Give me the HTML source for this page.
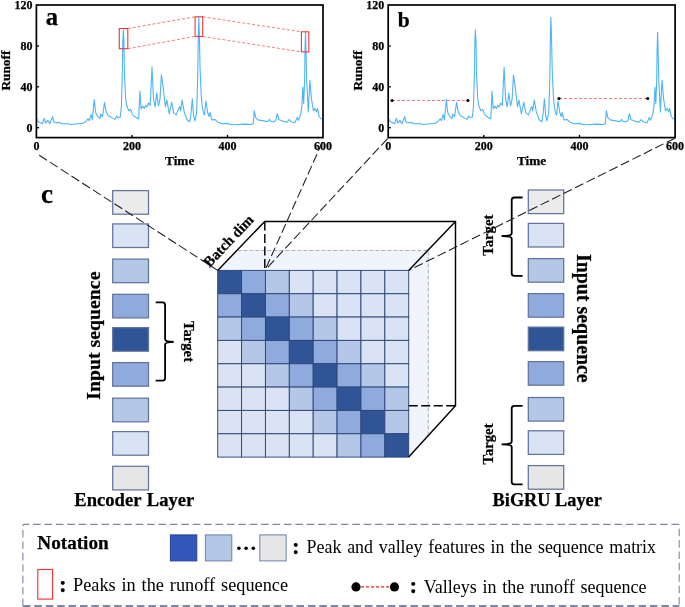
<!DOCTYPE html>
<html lang="en"><head><meta charset="utf-8"><title>Figure</title>
<style>
html,body{margin:0;padding:0;background:#fff;}
svg{display:block;font-family:'Liberation Serif', 'Times New Roman', serif;}
text{fill:#000;}
.bd{font-weight:bold;stroke:#000;stroke-width:0.25px;}
</style></head><body>
<svg width="685" height="607" viewBox="0 0 685 607">
<rect width="685" height="607" fill="#fff"/>
<polyline points="36.6,118.7 38.2,121.5 42.4,123.7 44.3,118.3 45.7,123.2 47.8,120.4 49.8,123.7 52.6,116.6 53.9,122.0 56.4,122.9 59.3,122.4 62.9,124.0 66.6,123.5 71.2,124.5 77.8,123.7 82.7,123.2 86.0,121.5 88.0,118.7 89.3,120.7 91.0,114.5 92.3,119.9 94.3,99.6 95.6,112.5 97.5,116.1 100.0,118.7 100.8,114.1 102.5,116.6 104.5,102.3 106.1,111.7 108.3,115.8 111.5,117.4 114.8,119.4 116.5,116.1 118.1,117.8 120.3,117.1 121.4,105.9 122.3,72.9 122.8,42.0 123.3,29.9 123.9,42.0 124.4,72.9 125.6,97.7 126.5,105.0 128.8,110.9 130.4,109.3 132.8,114.9 135.8,117.2 138.7,118.8 139.9,91.1 141.1,108.9 142.7,106.0 144.2,108.5 145.6,105.4 147.0,107.0 148.6,103.0 150.2,105.4 152.0,67.4 153.5,99.0 155.1,107.0 156.7,93.1 158.5,106.0 160.0,99.0 161.4,74.9 163.4,89.2 165.4,107.0 166.8,100.0 169.3,113.9 171.7,102.0 173.7,112.9 176.3,114.9 178.2,109.9 179.8,106.6 180.6,110.9 182.2,100.0 184.2,111.9 187.1,119.8 189.7,121.8 191.1,112.9 192.3,98.7 193.5,114.9 194.8,121.0 196.6,113.0 197.7,79.3 198.3,36.0 198.8,17.3 199.4,36.0 200.1,69.4 201.2,95.0 202.2,106.0 203.4,113.0 204.5,114.9 205.9,101.0 207.8,113.0 209.1,116.5 210.1,112.5 211.9,119.9 214.9,119.5 217.7,122.2 222.3,123.8 226.9,123.4 231.5,124.8 238.4,124.5 245.4,124.1 251.1,124.5 253.2,123.4 254.3,110.7 255.7,117.6 258.0,119.9 262.6,120.6 267.3,121.8 269.6,119.5 271.2,121.8 274.2,121.8 276.0,119.9 277.2,113.5 278.8,119.5 282.3,121.1 286.9,122.2 289.2,119.5 291.0,121.8 294.9,122.7 297.2,117.6 298.4,120.4 300.7,114.2 301.9,106.1 302.8,87.2 303.7,103.8 304.6,80.7 305.0,50.0 305.5,32.3 306.0,50.0 306.7,80.7 308.3,111.9 309.9,80.3 311.5,99.2 313.4,110.7 315.0,108.4 316.4,111.9 317.5,108.4 319.2,116.5 321.5,119.5" fill="none" stroke="#4db4f6" stroke-width="1.1" stroke-linejoin="round"/>
<rect x="36.4" y="5.0" width="286.6" height="132.6" fill="none" stroke="#000" stroke-width="1.7"/>
<line x1="36.4" y1="127.7" x2="39.1" y2="127.7" stroke="#000" stroke-width="1.3"/>
<text class="bd" x="32.5" y="131.7" text-anchor="end" font-size="12">0</text>
<line x1="36.4" y1="86.8" x2="39.1" y2="86.8" stroke="#000" stroke-width="1.3"/>
<text class="bd" x="32.5" y="90.8" text-anchor="end" font-size="12">40</text>
<line x1="36.4" y1="46.0" x2="39.1" y2="46.0" stroke="#000" stroke-width="1.3"/>
<text class="bd" x="32.5" y="50.0" text-anchor="end" font-size="12">80</text>
<text class="bd" x="32.5" y="9.1" text-anchor="end" font-size="12">120</text>
<text class="bd" x="36.4" y="150.1" text-anchor="middle" font-size="12">0</text>
<line x1="131.9" y1="137.6" x2="131.9" y2="134.9" stroke="#000" stroke-width="1.3"/>
<text class="bd" x="131.9" y="150.1" text-anchor="middle" font-size="12">200</text>
<line x1="227.5" y1="137.6" x2="227.5" y2="134.9" stroke="#000" stroke-width="1.3"/>
<text class="bd" x="227.5" y="150.1" text-anchor="middle" font-size="12">400</text>
<text class="bd" x="323.0" y="150.1" text-anchor="middle" font-size="12">600</text>
<text class="bd" x="179.7" y="164.5" text-anchor="middle" font-size="13.3">Time</text>
<text class="bd" transform="translate(10.2,70.6) rotate(-90)" text-anchor="middle" font-size="13.3">Runoff</text>
<text class="bd" x="45.8" y="24.8" font-size="24.6">a</text>
<rect x="119.3" y="28.5" width="8.5" height="20.2" fill="none" stroke="#f23535" stroke-width="1.1"/>
<rect x="195.1" y="16.8" width="7.6" height="19.6" fill="none" stroke="#f23535" stroke-width="1.1"/>
<rect x="301.4" y="31.8" width="7.4" height="20.1" fill="none" stroke="#f23535" stroke-width="1.1"/>
<line x1="127.8" y1="28.5" x2="195.1" y2="16.8" stroke="#f45a5a" stroke-width="0.8" stroke-dasharray="3 2"/>
<line x1="127.8" y1="48.7" x2="195.1" y2="36.4" stroke="#f45a5a" stroke-width="0.8" stroke-dasharray="3 2"/>
<line x1="202.7" y1="16.8" x2="301.4" y2="31.8" stroke="#f45a5a" stroke-width="0.8" stroke-dasharray="3 2"/>
<line x1="202.7" y1="36.4" x2="301.4" y2="51.9" stroke="#f45a5a" stroke-width="0.8" stroke-dasharray="3 2"/>
<polyline points="388.7,118.7 390.3,121.5 394.5,123.7 396.4,118.3 397.8,123.2 399.9,120.4 401.9,123.7 404.7,116.6 406.0,122.0 408.5,122.9 411.4,122.4 415.0,124.0 418.7,123.5 423.3,124.5 429.9,123.7 434.8,123.2 438.1,121.5 440.1,118.7 441.4,120.7 443.1,114.5 444.4,119.9 446.4,99.6 447.7,112.5 449.6,116.1 452.1,118.7 452.9,114.1 454.6,116.6 456.6,102.3 458.2,111.7 460.4,115.8 463.6,117.4 466.9,119.4 468.6,116.1 470.2,117.8 472.4,117.1 473.5,105.9 474.4,72.9 474.9,42.0 475.4,29.9 476.0,42.0 476.5,72.9 477.7,97.7 478.6,105.0 480.9,110.9 482.5,109.3 484.9,114.9 487.9,117.2 490.8,118.8 492.0,91.1 493.2,108.9 494.8,106.0 496.3,108.5 497.7,105.4 499.1,107.0 500.7,103.0 502.3,105.4 504.1,67.4 505.6,99.0 507.2,107.0 508.8,93.1 510.6,106.0 512.1,99.0 513.5,74.9 515.5,89.2 517.5,107.0 518.9,100.0 521.4,113.9 523.8,102.0 525.8,112.9 528.4,114.9 530.3,109.9 531.9,106.6 532.7,110.9 534.3,100.0 536.3,111.9 539.2,119.8 541.8,121.8 543.2,112.9 544.4,98.7 545.6,114.9 546.9,121.0 548.7,113.0 549.8,79.3 550.4,36.0 550.9,17.3 551.5,36.0 552.2,69.4 553.3,95.0 554.3,106.0 555.5,113.0 556.6,114.9 558.0,101.0 559.9,113.0 561.2,116.5 562.2,112.5 564.0,119.9 567.0,119.5 569.8,122.2 574.4,123.8 579.0,123.4 583.6,124.8 590.5,124.5 597.5,124.1 603.2,124.5 605.3,123.4 606.4,110.7 607.8,117.6 610.1,119.9 614.7,120.6 619.4,121.8 621.7,119.5 623.3,121.8 626.3,121.8 628.1,119.9 629.3,113.5 630.9,119.5 634.4,121.1 639.0,122.2 641.3,119.5 643.1,121.8 647.0,122.7 649.3,117.6 650.5,120.4 652.8,114.2 654.0,106.1 654.9,87.2 655.8,103.8 656.7,80.7 657.1,50.0 657.6,32.3 658.1,50.0 658.8,80.7 660.4,111.9 662.0,80.3 663.6,99.2 665.5,110.7 667.1,108.4 668.5,111.9 669.6,108.4 671.3,116.5 673.6,119.5" fill="none" stroke="#4db4f6" stroke-width="1.1" stroke-linejoin="round"/>
<rect x="388.2" y="5.0" width="286.9" height="132.6" fill="none" stroke="#000" stroke-width="1.7"/>
<line x1="388.2" y1="127.7" x2="390.9" y2="127.7" stroke="#000" stroke-width="1.3"/>
<text class="bd" x="384.3" y="131.7" text-anchor="end" font-size="12">0</text>
<line x1="388.2" y1="86.8" x2="390.9" y2="86.8" stroke="#000" stroke-width="1.3"/>
<text class="bd" x="384.3" y="90.8" text-anchor="end" font-size="12">40</text>
<line x1="388.2" y1="46.0" x2="390.9" y2="46.0" stroke="#000" stroke-width="1.3"/>
<text class="bd" x="384.3" y="50.0" text-anchor="end" font-size="12">80</text>
<text class="bd" x="384.3" y="9.1" text-anchor="end" font-size="12">120</text>
<text class="bd" x="388.2" y="150.1" text-anchor="middle" font-size="12">0</text>
<line x1="483.8" y1="137.6" x2="483.8" y2="134.9" stroke="#000" stroke-width="1.3"/>
<text class="bd" x="483.8" y="150.1" text-anchor="middle" font-size="12">200</text>
<line x1="579.5" y1="137.6" x2="579.5" y2="134.9" stroke="#000" stroke-width="1.3"/>
<text class="bd" x="579.5" y="150.1" text-anchor="middle" font-size="12">400</text>
<text class="bd" x="675.1" y="150.1" text-anchor="middle" font-size="12">600</text>
<text class="bd" x="531.6" y="164.5" text-anchor="middle" font-size="13.3">Time</text>
<text class="bd" transform="translate(362.4,70.6) rotate(-90)" text-anchor="middle" font-size="13.3">Runoff</text>
<text class="bd" x="397.7" y="26.6" font-size="21.5">b</text>
<line x1="392.0" y1="100.5" x2="467.9" y2="100.5" stroke="#f45a5a" stroke-width="0.8" stroke-dasharray="3 2"/>
<circle cx="392.0" cy="100.5" r="1.6" fill="#000"/><circle cx="467.9" cy="100.5" r="1.6" fill="#000"/>
<line x1="559.0" y1="98.5" x2="647.7" y2="98.5" stroke="#f45a5a" stroke-width="0.8" stroke-dasharray="3 2"/>
<circle cx="559.0" cy="98.5" r="1.6" fill="#000"/><circle cx="647.7" cy="98.5" r="1.6" fill="#000"/>
<text class="bd" x="41" y="203" font-size="27">c</text>
<rect x="112.7" y="190.6" width="35.8" height="23.6" fill="#ebebeb" stroke="#62739c" stroke-width="1.25"/>
<rect x="112.7" y="223.9" width="35.8" height="23.6" fill="#dae3f3" stroke="#62739c" stroke-width="1.25"/>
<rect x="112.7" y="259.1" width="35.8" height="23.6" fill="#b4c7e7" stroke="#62739c" stroke-width="1.25"/>
<rect x="112.7" y="294.3" width="35.8" height="23.6" fill="#8faadc" stroke="#62739c" stroke-width="1.25"/>
<rect x="112.7" y="327.6" width="35.8" height="23.6" fill="#2f5597" stroke="#62739c" stroke-width="1.25"/>
<rect x="112.7" y="362.6" width="35.8" height="23.6" fill="#8faadc" stroke="#62739c" stroke-width="1.25"/>
<rect x="112.7" y="398.2" width="35.8" height="23.6" fill="#b4c7e7" stroke="#62739c" stroke-width="1.25"/>
<rect x="112.7" y="431.6" width="35.8" height="23.6" fill="#dae3f3" stroke="#62739c" stroke-width="1.25"/>
<rect x="112.7" y="466.3" width="35.8" height="23.6" fill="#e7e6e6" stroke="#62739c" stroke-width="1.25"/>
<rect x="528.3" y="190.0" width="35.4" height="23.6" fill="#ebebeb" stroke="#62739c" stroke-width="1.25"/>
<rect x="528.3" y="223.4" width="35.4" height="23.6" fill="#dae3f3" stroke="#62739c" stroke-width="1.25"/>
<rect x="528.3" y="258.6" width="35.4" height="23.6" fill="#b4c7e7" stroke="#62739c" stroke-width="1.25"/>
<rect x="528.3" y="293.6" width="35.4" height="23.6" fill="#8faadc" stroke="#62739c" stroke-width="1.25"/>
<rect x="528.3" y="327.1" width="35.4" height="23.6" fill="#2f5597" stroke="#62739c" stroke-width="1.25"/>
<rect x="528.3" y="361.6" width="35.4" height="23.6" fill="#8faadc" stroke="#62739c" stroke-width="1.25"/>
<rect x="528.3" y="397.5" width="35.4" height="23.6" fill="#b4c7e7" stroke="#62739c" stroke-width="1.25"/>
<rect x="528.3" y="430.8" width="35.4" height="23.6" fill="#dae3f3" stroke="#62739c" stroke-width="1.25"/>
<rect x="528.3" y="465.6" width="35.4" height="23.6" fill="#e7e6e6" stroke="#62739c" stroke-width="1.25"/>
<path d="M155.7,302.4 L162.5,302.4 Q165.1,302.4 165.1,305.0 L165.1,339.29999999999995 Q165.1,341.9 173.8,341.9 Q165.1,341.9 165.1,344.5 L165.1,378.0 Q165.1,380.6 162.5,380.6 L155.7,380.6" fill="none" stroke="#000" stroke-width="1.8"/>
<path d="M522.6,197.5 L514.3,197.5 Q511.7,197.5 511.7,200.1 L511.7,233.4 Q511.7,236.0 501.6,236.0 Q511.7,236.0 511.7,238.6 L511.7,273.2 Q511.7,275.8 514.3,275.8 L522.6,275.8" fill="none" stroke="#000" stroke-width="1.8"/>
<path d="M522.6,405.9 L514.3,405.9 Q511.7,405.9 511.7,408.5 L511.7,441.7 Q511.7,444.3 501.6,444.3 Q511.7,444.3 511.7,446.90000000000003 L511.7,481.7 Q511.7,484.3 514.3,484.3 L522.6,484.3" fill="none" stroke="#000" stroke-width="1.8"/>
<text class="bd" transform="translate(183.9,341.5) rotate(90)" text-anchor="middle" font-size="14.7">Target</text>
<text class="bd" transform="translate(493.2,235.2) rotate(-90)" text-anchor="middle" font-size="14.7">Target</text>
<text class="bd" transform="translate(493.2,444) rotate(-90)" text-anchor="middle" font-size="14.7">Target</text>
<text class="bd" transform="translate(99.5,335.6) rotate(-90)" text-anchor="middle" font-size="19.8">Input sequence</text>
<text class="bd" transform="translate(576.5,318.3) rotate(90)" text-anchor="middle" font-size="19.9">Input sequence</text>
<text class="bd" x="134.3" y="505.9" text-anchor="middle" font-size="18.6" word-spacing="1">Encoder Layer</text>
<text class="bd" x="547.2" y="505.6" text-anchor="middle" font-size="18.3">BiGRU Layer</text>
<polygon points="217.7,270.4 237.3,250.5 428.3,250.5 428.3,435.6 408.7,457.1 408.7,270.4" fill="#f0f4fb" stroke="none"/>
<polyline points="237.3,250.5 428.3,250.5 428.3,435.6" fill="none" stroke="#a0a7b8" stroke-width="0.9" stroke-dasharray="4 2"/>
<rect x="217.70" y="270.40" width="23.88" height="23.34" fill="#2f5597" stroke="#2e4679" stroke-width="0.95"/>
<rect x="241.57" y="270.40" width="23.88" height="23.34" fill="#8faadc" stroke="#2e4679" stroke-width="0.95"/>
<rect x="265.45" y="270.40" width="23.88" height="23.34" fill="#b4c7e7" stroke="#2e4679" stroke-width="0.95"/>
<rect x="289.32" y="270.40" width="23.88" height="23.34" fill="#dae3f3" stroke="#2e4679" stroke-width="0.95"/>
<rect x="313.20" y="270.40" width="23.88" height="23.34" fill="#dae3f3" stroke="#2e4679" stroke-width="0.95"/>
<rect x="337.07" y="270.40" width="23.88" height="23.34" fill="#dae3f3" stroke="#2e4679" stroke-width="0.95"/>
<rect x="360.95" y="270.40" width="23.88" height="23.34" fill="#dae3f3" stroke="#2e4679" stroke-width="0.95"/>
<rect x="384.82" y="270.40" width="23.88" height="23.34" fill="#dae3f3" stroke="#2e4679" stroke-width="0.95"/>
<rect x="217.70" y="293.74" width="23.88" height="23.34" fill="#8faadc" stroke="#2e4679" stroke-width="0.95"/>
<rect x="241.57" y="293.74" width="23.88" height="23.34" fill="#2f5597" stroke="#2e4679" stroke-width="0.95"/>
<rect x="265.45" y="293.74" width="23.88" height="23.34" fill="#8faadc" stroke="#2e4679" stroke-width="0.95"/>
<rect x="289.32" y="293.74" width="23.88" height="23.34" fill="#b4c7e7" stroke="#2e4679" stroke-width="0.95"/>
<rect x="313.20" y="293.74" width="23.88" height="23.34" fill="#dae3f3" stroke="#2e4679" stroke-width="0.95"/>
<rect x="337.07" y="293.74" width="23.88" height="23.34" fill="#dae3f3" stroke="#2e4679" stroke-width="0.95"/>
<rect x="360.95" y="293.74" width="23.88" height="23.34" fill="#dae3f3" stroke="#2e4679" stroke-width="0.95"/>
<rect x="384.82" y="293.74" width="23.88" height="23.34" fill="#dae3f3" stroke="#2e4679" stroke-width="0.95"/>
<rect x="217.70" y="317.07" width="23.88" height="23.34" fill="#b4c7e7" stroke="#2e4679" stroke-width="0.95"/>
<rect x="241.57" y="317.07" width="23.88" height="23.34" fill="#8faadc" stroke="#2e4679" stroke-width="0.95"/>
<rect x="265.45" y="317.07" width="23.88" height="23.34" fill="#2f5597" stroke="#2e4679" stroke-width="0.95"/>
<rect x="289.32" y="317.07" width="23.88" height="23.34" fill="#8faadc" stroke="#2e4679" stroke-width="0.95"/>
<rect x="313.20" y="317.07" width="23.88" height="23.34" fill="#b4c7e7" stroke="#2e4679" stroke-width="0.95"/>
<rect x="337.07" y="317.07" width="23.88" height="23.34" fill="#dae3f3" stroke="#2e4679" stroke-width="0.95"/>
<rect x="360.95" y="317.07" width="23.88" height="23.34" fill="#dae3f3" stroke="#2e4679" stroke-width="0.95"/>
<rect x="384.82" y="317.07" width="23.88" height="23.34" fill="#dae3f3" stroke="#2e4679" stroke-width="0.95"/>
<rect x="217.70" y="340.41" width="23.88" height="23.34" fill="#dae3f3" stroke="#2e4679" stroke-width="0.95"/>
<rect x="241.57" y="340.41" width="23.88" height="23.34" fill="#b4c7e7" stroke="#2e4679" stroke-width="0.95"/>
<rect x="265.45" y="340.41" width="23.88" height="23.34" fill="#8faadc" stroke="#2e4679" stroke-width="0.95"/>
<rect x="289.32" y="340.41" width="23.88" height="23.34" fill="#2f5597" stroke="#2e4679" stroke-width="0.95"/>
<rect x="313.20" y="340.41" width="23.88" height="23.34" fill="#8faadc" stroke="#2e4679" stroke-width="0.95"/>
<rect x="337.07" y="340.41" width="23.88" height="23.34" fill="#b4c7e7" stroke="#2e4679" stroke-width="0.95"/>
<rect x="360.95" y="340.41" width="23.88" height="23.34" fill="#dae3f3" stroke="#2e4679" stroke-width="0.95"/>
<rect x="384.82" y="340.41" width="23.88" height="23.34" fill="#dae3f3" stroke="#2e4679" stroke-width="0.95"/>
<rect x="217.70" y="363.75" width="23.88" height="23.34" fill="#dae3f3" stroke="#2e4679" stroke-width="0.95"/>
<rect x="241.57" y="363.75" width="23.88" height="23.34" fill="#dae3f3" stroke="#2e4679" stroke-width="0.95"/>
<rect x="265.45" y="363.75" width="23.88" height="23.34" fill="#b4c7e7" stroke="#2e4679" stroke-width="0.95"/>
<rect x="289.32" y="363.75" width="23.88" height="23.34" fill="#8faadc" stroke="#2e4679" stroke-width="0.95"/>
<rect x="313.20" y="363.75" width="23.88" height="23.34" fill="#2f5597" stroke="#2e4679" stroke-width="0.95"/>
<rect x="337.07" y="363.75" width="23.88" height="23.34" fill="#8faadc" stroke="#2e4679" stroke-width="0.95"/>
<rect x="360.95" y="363.75" width="23.88" height="23.34" fill="#b4c7e7" stroke="#2e4679" stroke-width="0.95"/>
<rect x="384.82" y="363.75" width="23.88" height="23.34" fill="#dae3f3" stroke="#2e4679" stroke-width="0.95"/>
<rect x="217.70" y="387.09" width="23.88" height="23.34" fill="#dae3f3" stroke="#2e4679" stroke-width="0.95"/>
<rect x="241.57" y="387.09" width="23.88" height="23.34" fill="#dae3f3" stroke="#2e4679" stroke-width="0.95"/>
<rect x="265.45" y="387.09" width="23.88" height="23.34" fill="#dae3f3" stroke="#2e4679" stroke-width="0.95"/>
<rect x="289.32" y="387.09" width="23.88" height="23.34" fill="#b4c7e7" stroke="#2e4679" stroke-width="0.95"/>
<rect x="313.20" y="387.09" width="23.88" height="23.34" fill="#8faadc" stroke="#2e4679" stroke-width="0.95"/>
<rect x="337.07" y="387.09" width="23.88" height="23.34" fill="#2f5597" stroke="#2e4679" stroke-width="0.95"/>
<rect x="360.95" y="387.09" width="23.88" height="23.34" fill="#8faadc" stroke="#2e4679" stroke-width="0.95"/>
<rect x="384.82" y="387.09" width="23.88" height="23.34" fill="#b4c7e7" stroke="#2e4679" stroke-width="0.95"/>
<rect x="217.70" y="410.43" width="23.88" height="23.34" fill="#dae3f3" stroke="#2e4679" stroke-width="0.95"/>
<rect x="241.57" y="410.43" width="23.88" height="23.34" fill="#dae3f3" stroke="#2e4679" stroke-width="0.95"/>
<rect x="265.45" y="410.43" width="23.88" height="23.34" fill="#dae3f3" stroke="#2e4679" stroke-width="0.95"/>
<rect x="289.32" y="410.43" width="23.88" height="23.34" fill="#dae3f3" stroke="#2e4679" stroke-width="0.95"/>
<rect x="313.20" y="410.43" width="23.88" height="23.34" fill="#b4c7e7" stroke="#2e4679" stroke-width="0.95"/>
<rect x="337.07" y="410.43" width="23.88" height="23.34" fill="#8faadc" stroke="#2e4679" stroke-width="0.95"/>
<rect x="360.95" y="410.43" width="23.88" height="23.34" fill="#2f5597" stroke="#2e4679" stroke-width="0.95"/>
<rect x="384.82" y="410.43" width="23.88" height="23.34" fill="#b4c7e7" stroke="#2e4679" stroke-width="0.95"/>
<rect x="217.70" y="433.76" width="23.88" height="23.34" fill="#dae3f3" stroke="#2e4679" stroke-width="0.95"/>
<rect x="241.57" y="433.76" width="23.88" height="23.34" fill="#dae3f3" stroke="#2e4679" stroke-width="0.95"/>
<rect x="265.45" y="433.76" width="23.88" height="23.34" fill="#dae3f3" stroke="#2e4679" stroke-width="0.95"/>
<rect x="289.32" y="433.76" width="23.88" height="23.34" fill="#dae3f3" stroke="#2e4679" stroke-width="0.95"/>
<rect x="313.20" y="433.76" width="23.88" height="23.34" fill="#dae3f3" stroke="#2e4679" stroke-width="0.95"/>
<rect x="337.07" y="433.76" width="23.88" height="23.34" fill="#b4c7e7" stroke="#2e4679" stroke-width="0.95"/>
<rect x="360.95" y="433.76" width="23.88" height="23.34" fill="#8faadc" stroke="#2e4679" stroke-width="0.95"/>
<rect x="384.82" y="433.76" width="23.88" height="23.34" fill="#2f5597" stroke="#2e4679" stroke-width="0.95"/>
<polyline points="217.7,270.4 264.8,221.4 455.5,221.4 455.5,405.8 408.7,457.1" fill="none" stroke="#000" stroke-width="1.45" stroke-linejoin="miter"/>
<line x1="455.5" y1="221.4" x2="408.7" y2="270.4" stroke="#000" stroke-width="1.45"/>
<line x1="264.8" y1="221.4" x2="264.8" y2="270.4" stroke="#000" stroke-width="1.45" stroke-dasharray="9 3.5"/>
<line x1="408.7" y1="405.8" x2="455.5" y2="405.8" stroke="#000" stroke-width="1.45" stroke-dasharray="9 3.5"/>
<line x1="39.2" y1="155.2" x2="217.7" y2="270.4" stroke="#1c1c1c" stroke-width="1.05" stroke-dasharray="9.2 3.6" fill="none"/>
<line x1="322.2" y1="142.5" x2="265.40000000000003" y2="269.4" stroke="#1c1c1c" stroke-width="1.05" stroke-dasharray="9.2 3.6" fill="none"/>
<line x1="387.6" y1="138.6" x2="265.7" y2="269.4" stroke="#1c1c1c" stroke-width="1.05" stroke-dasharray="9.2 3.6" fill="none"/>
<line x1="675.0" y1="138.2" x2="408.7" y2="270.4" stroke="#1c1c1c" stroke-width="1.05" stroke-dasharray="9.2 3.6" fill="none"/>
<text class="bd" transform="translate(209.6,268.0) rotate(-46.6)" font-size="14.8">Batch dim</text>
<path d="M22.9,606 L22.9,525.4 Q22.9,524.4 23.9,524.4 L678.2,524.4 Q679.2,524.4 679.2,525.4 L679.2,606" stroke="#7f86a3" stroke-dasharray="7.6 3.8" fill="none" stroke-width="1.1"/>
<line x1="22.9" y1="606.1" x2="679.2" y2="606.1" stroke="#7f86a3" stroke-dasharray="7.6 3.8" fill="none" stroke-width="2.4"/>
<text class="bd" x="37.3" y="548.6" font-size="19.2">Notation</text>
<rect x="170.4" y="534.9" width="26.4" height="26" fill="#3057b9" stroke="#2b409a" stroke-width="1"/>
<rect x="205.4" y="534.9" width="26.4" height="26" fill="#b4c7e7" stroke="#6f7fa8" stroke-width="1"/>
<rect x="259.8" y="534.9" width="26.4" height="26" fill="#e7e6e6" stroke="#6f7fa8" stroke-width="1"/>
<circle cx="238.9" cy="548.2" r="1.8" fill="#000"/>
<circle cx="246.1" cy="548.2" r="1.8" fill="#000"/>
<circle cx="253.3" cy="548.2" r="1.8" fill="#000"/>
<text class="bd" x="292.0" y="553.6" font-size="23">:</text>
<text x="306.6" y="553.4" font-size="17.9" word-spacing="1.3">Peak and valley features in the sequence matrix</text>
<rect x="37.8" y="569.5" width="14.8" height="29.6" fill="none" stroke="#f23535" stroke-width="1.15"/>
<text class="bd" x="59.0" y="591.6" font-size="23">:</text>
<text x="73.0" y="591.4" font-size="18.3" word-spacing="1.3">Peaks in the runoff sequence</text>
<line x1="356" y1="586.9" x2="394.5" y2="586.9" stroke="#f02020" stroke-width="1.1" stroke-dasharray="3 2"/>
<circle cx="356" cy="586.9" r="4.6" fill="#000"/><circle cx="394.5" cy="586.9" r="4.6" fill="#000"/>
<text class="bd" x="409.6" y="592.8" font-size="23">:</text>
<text x="423.7" y="592.6" font-size="18.0" word-spacing="1.3">Valleys in the runoff sequence</text>
</svg></body></html>
